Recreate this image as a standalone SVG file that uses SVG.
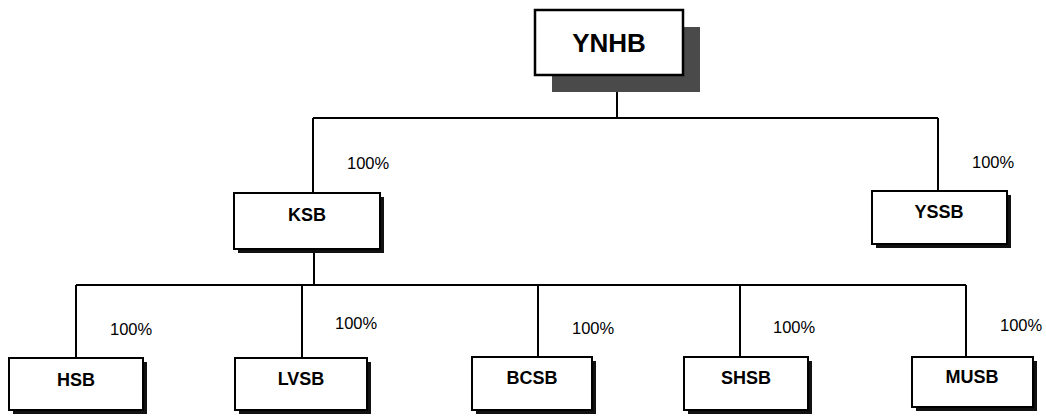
<svg xmlns="http://www.w3.org/2000/svg" width="1046" height="416" viewBox="0 0 1046 416">
<style>
.box{fill:#fff;stroke:#000;stroke-width:2}
.sh{fill:#111}
.big{fill:#4a4a4a}
.lbl{font-family:"Liberation Sans",Arial,sans-serif;font-weight:bold;font-size:18px;text-anchor:middle;fill:#000}
.pct{font-family:"Liberation Sans",Arial,sans-serif;font-size:16.5px;fill:#000}
.ln{stroke:#000;stroke-width:2;fill:none}
</style>
<rect width="1046" height="416" fill="#fff"/>
<g id="connectors">
<path class="ln" d="M617 75V118M313 118H938M313 118V193M938 118V191"/>
<path class="ln" d="M314 249V285M76 285H966M76 285V358M302 285V358M538 285V357M740 285V357M966 285V357"/>
</g>
<g id="YNHB">
<rect class="big" x="552" y="27" width="148" height="65"/>
<rect class="box" x="535" y="10" width="148" height="65" style="stroke-width:2.5"/>
<text class="lbl" x="609" y="52" style="font-size:26px">YNHB</text>
</g>
<g id="KSB">
<rect class="sh" x="238" y="197" width="146" height="56"/>
<rect class="box" x="234" y="193" width="146" height="56"/>
<text class="lbl" x="307" y="221">KSB</text>
<text class="pct" x="347" y="169">100%</text>
</g>
<g id="YSSB">
<rect class="sh" x="876" y="195" width="135" height="53"/>
<rect class="box" x="872" y="191" width="135" height="53"/>
<text class="lbl" x="939" y="218">YSSB</text>
<text class="pct" x="972" y="168">100%</text>
</g>
<g id="HSB">
<rect class="sh" x="13" y="362" width="134" height="52"/>
<rect class="box" x="9" y="358" width="134" height="52"/>
<text class="lbl" x="76" y="386">HSB</text>
<text class="pct" x="110" y="335">100%</text>
</g>
<g id="LVSB">
<rect class="sh" x="239" y="362" width="132" height="52"/>
<rect class="box" x="235" y="358" width="132" height="52"/>
<text class="lbl" x="301" y="385">LVSB</text>
<text class="pct" x="335" y="329">100%</text>
</g>
<g id="BCSB">
<rect class="sh" x="476" y="361" width="120" height="53"/>
<rect class="box" x="472" y="357" width="120" height="53"/>
<text class="lbl" x="532" y="384">BCSB</text>
<text class="pct" x="572" y="334">100%</text>
</g>
<g id="SHSB">
<rect class="sh" x="688" y="361" width="124" height="53"/>
<rect class="box" x="684" y="357" width="124" height="53"/>
<text class="lbl" x="746" y="384">SHSB</text>
<text class="pct" x="773" y="333">100%</text>
</g>
<g id="MUSB">
<rect class="sh" x="916" y="361" width="121" height="50"/>
<rect class="box" x="912" y="357" width="121" height="50"/>
<text class="lbl" x="972" y="383">MUSB</text>
<text class="pct" x="1000" y="331">100%</text>
</g>
</svg>
